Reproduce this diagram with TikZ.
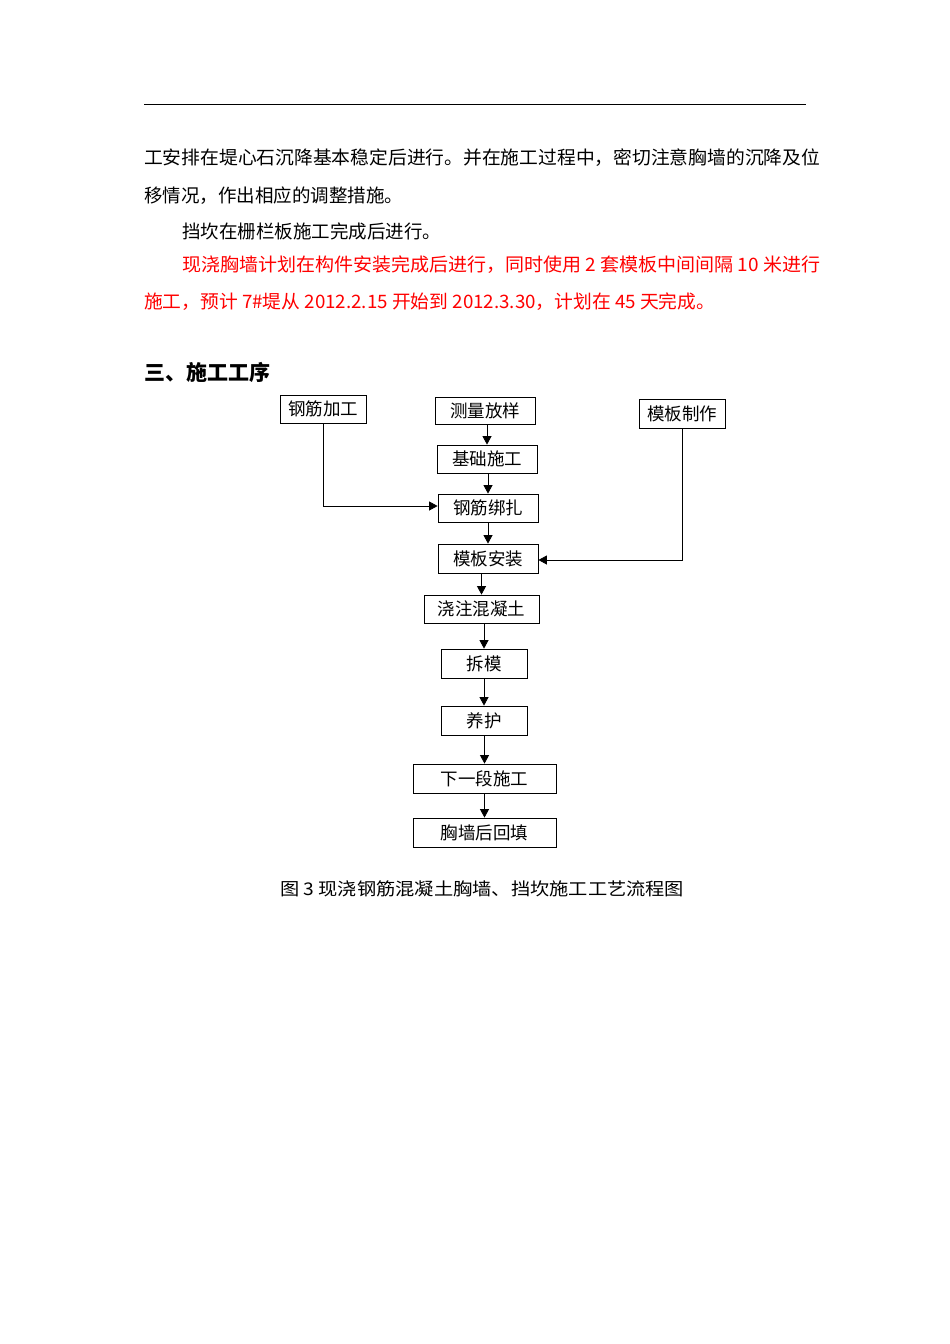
\documentclass[tikz,border=0pt]{standalone}
\usepackage{fontspec}
\usepackage{graphicx}
\setmainfont{Noto Sans CJK SC}
\usetikzlibrary{arrows.meta}
\newcommand{\fitw}[2]{\resizebox{#1}{\height}{#2}}
\begin{document}
\begin{tikzpicture}[x=1pt,y=-1pt,
  box/.style={draw,line width=0.8pt,inner sep=0pt,font=\fontsize{17.5}{20}\selectfont},
  flow/.style={-{Triangle[length=8.5pt,width=9pt]},line width=0.8pt},
  para/.style={anchor=west,inner sep=0pt,font=\fontsize{18.5}{22}\selectfont},
  redpara/.style={para,text=red}]
\useasboundingbox (0,0) rectangle (950,1344);
\fill[white] (0,0) rectangle (950,1344);
% header rule
\coordinate (hl) at (144,104);
\coordinate (hr) at (806,104);
\draw[line width=0.9pt] (hl) -- (hr);
% paragraphs
\node[para] (p1) at (144,158) {\fitw{676pt}{工安排在堤心石沉降基本稳定后进行。并在施工过程中，密切注意胸墙的沉降及位}};
\node[para] (p2) at (144,196) {移情况，作出相应的调整措施。};
\node[para] (p3) at (182,231) {挡坎在栅栏板施工完成后进行。};
\node[redpara] (p4) at (182,265) {\fitw{638pt}{现浇胸墙计划在构件安装完成后进行，同时使用 2 套模板中间间隔 10 米进行}};
\node[redpara] (p5) at (144,302) {\fitw{571pt}{施工，预计 7\#堤从 2012.2.15 开始到 2012.3.30，计划在 45 天完成。}};
\node[anchor=west,inner sep=0pt,font=\fontsize{21}{24}\selectfont\bfseries] (title) at (144,372) {三、施工工序};
% boxes
\node[box,minimum width=86pt,minimum height=28pt] (gjjg) at (323,409) {钢筋加工};
\node[box,minimum width=100pt,minimum height=27pt] (clfy) at (485,410.5) {测量放样};
\node[box,minimum width=86pt,minimum height=29pt] (mbzz) at (682,413.5) {模板制作};
\node[box,minimum width=100pt,minimum height=28pt] (jcsg) at (487,459) {基础施工};
\node[box,minimum width=100pt,minimum height=28pt] (gjbz) at (488,508) {钢筋绑扎};
\node[box,minimum width=100pt,minimum height=29pt] (mbaz) at (488,558.5) {模板安装};
\node[box,minimum width=115pt,minimum height=28pt] (jzhnt) at (481.5,609) {浇注混凝土};
\node[box,minimum width=86pt,minimum height=29pt] (cm) at (484,663.5) {拆模};
\node[box,minimum width=86pt,minimum height=29pt] (yh) at (484,720.5) {养护};
\node[box,minimum width=143pt,minimum height=29pt] (xyd) at (484.5,778.5) {下一段施工};
\node[box,minimum width=143pt,minimum height=29pt] (xqht) at (484.5,832.5) {胸墙后回填};
% connectors
\draw[flow] (clfy.south -| jcsg.north) -- (jcsg.north);
\draw[flow] (jcsg.south -| gjbz.north) -- (gjbz.north);
\draw[flow] (gjbz.south -| mbaz.north) -- (mbaz.north);
\draw[flow] (mbaz.south -| jzhnt.north) -- (jzhnt.north);
\draw[flow] (jzhnt.south -| cm.north) -- (cm.north);
\draw[flow] (cm.south -| yh.north) -- (yh.north);
\draw[flow] (yh.south -| xyd.north) -- (xyd.north);
\draw[flow] (xyd.south -| xqht.north) -- (xqht.north);
\draw[flow] (gjjg.south) |- ([yshift=2pt]gjbz.west);
\draw[flow] (mbzz.south) |- ([yshift=-1.5pt]mbaz.east);
% caption
\node[anchor=west,inner sep=0pt,font=\fontsize{17.5}{20}\selectfont] (cap) at (280,889) {\fitw{404pt}{图 3 现浇钢筋混凝土胸墙、挡坎施工工艺流程图}};
\end{tikzpicture}
\end{document}
